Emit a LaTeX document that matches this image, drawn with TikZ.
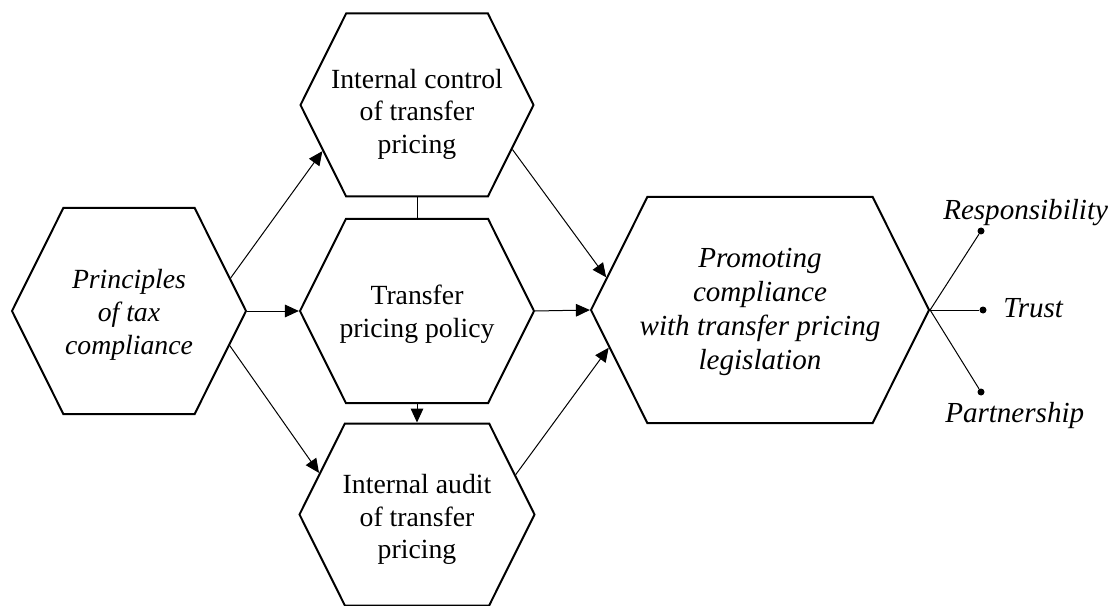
\documentclass[tikz,border=0pt]{standalone}
\usepackage{fontspec}
\setmainfont{Liberation Serif}
\usetikzlibrary{shapes.symbols,arrows.meta}

\begin{document}
\begin{tikzpicture}[x=0.75pt, y=-0.75pt,
    hexa/.style={signal, signal from=nowhere, signal to=east and west,
      signal pointer angle=127, draw, line width=1.5pt, align=center,
      inner xsep=-20pt, inner ysep=0pt, font=\fontsize{20.8}{24.5}\selectfont},
    ital/.style={font=\fontsize{21.8}{25.5}\selectfont\itshape},
    conn/.style={line width=0.75pt},
    arr/.style={conn, -{Triangle[length=10.5pt,width=9.5pt]}},
    dot/.style={circle, fill=black, inner sep=0pt, minimum size=5.25pt},
    lbl/.style={ital, inner sep=0pt, anchor=base west}]
        \useasboundingbox (0,0) rectangle (1111,606);

        % Hexagons (the rules push the text a little down)
        \node[hexa, font=\fontsize{20.8}{24.5}\selectfont\itshape,
          minimum width=175.5pt, minimum height=154.5pt] (princ) at (129,311) {\rule{0pt}{20.4pt}Principles\\of tax\\compliance};
        \node[hexa, minimum width=174.75pt, minimum height=137.25pt] (ctrl) at (417,105) {\rule{0pt}{28pt}Internal control\\of transfer\\pricing};
        \node[hexa, minimum width=175.5pt, minimum height=138pt] (policy) at (417,311) {\rule{0pt}{19.6pt}Transfer\\pricing policy};
        \node[hexa, minimum width=176.25pt, minimum height=136.5pt] (audit) at (417,514.5) {\rule{0pt}{22pt}Internal audit\\of transfer\\pricing};
        \node[hexa, ital, minimum width=253.5pt, minimum height=169.5pt] (promo) at (760,310) {\rule{0pt}{18pt}Promoting\\compliance\\with transfer pricing\\legislation};

        % Arrows between hexagons
        \draw[arr] (princ.18) -- (ctrl.206);
        \draw[arr] (princ.east) -- (policy.west);
        \draw[arr] (princ.341) -- (audit.157);
        \draw[conn] (ctrl.south) -- (policy.north);
        \draw[arr] (policy.south) -- (audit.north);
        \draw[arr] (ctrl.335) -- (promo.168);
        \draw[arr] (policy.east) -- (promo.west);
        \draw[arr] (audit.22) -- (promo.194);

        % Dots and their labels
        \node[dot] (resp) at (981,231) {};
        \node[dot] (trust) at (983,310) {};
        \node[dot] (part) at (981,392) {};
        \draw[conn] (promo.east) -- (resp);
        \draw[conn] (promo.east) -- (trust);
        \draw[conn] (promo.east) -- (part);
        \node[lbl] (resplbl) at (943,220) {Responsibility};
        \node[lbl] (trustlbl) at (1003,317) {Trust};
        \node[lbl] (partlbl) at (945,422) {Partnership};
\end{tikzpicture}
\end{document}
